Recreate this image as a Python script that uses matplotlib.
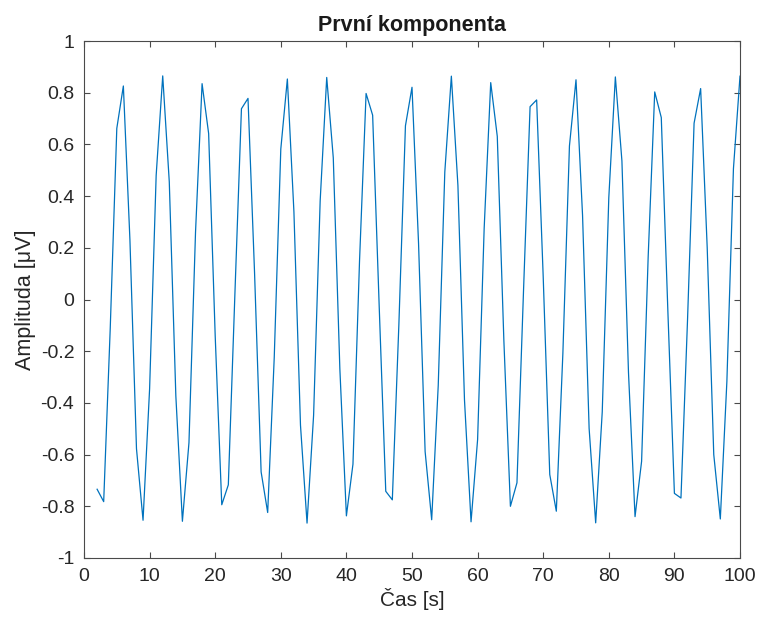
import matplotlib
matplotlib.use("Agg")
import matplotlib.pyplot as plt

# time samples [s]
cas = list(range(2, 101))

# amplitude [uV]
amplituda = [
    -0.734, -0.782, -0.111, 0.662, 0.826, 0.231, -0.577, -0.854, -0.346, 0.480,
    0.865, 0.455, -0.373, -0.858, -0.554, 0.260, 0.835, 0.642, -0.141, -0.794,
    -0.717, 0.019, 0.738, 0.778, 0.103, -0.667, -0.824, -0.224, 0.582, 0.853,
    0.339, -0.486, -0.865, -0.448, 0.381, 0.859, 0.548, -0.267, -0.837, -0.637,
    0.148, 0.797, 0.713, -0.027, -0.742, -0.775, -0.096, 0.672, 0.821, 0.216,
    -0.588, -0.852, -0.332, 0.493, 0.864, 0.441, -0.388, -0.860, -0.542, 0.275,
    0.839, 0.631, -0.156, -0.800, -0.709, 0.034, 0.746, 0.772, 0.088, -0.677,
    -0.819, -0.208, 0.594, 0.850, 0.325, -0.499, -0.864, -0.435, 0.394, 0.861,
    0.536, -0.282, -0.840, -0.626, 0.164, 0.803, 0.704, -0.042, -0.750, -0.768,
    -0.080, 0.682, 0.816, 0.201, -0.600, -0.849, -0.317, 0.506, 0.864,
]

xticks = list(range(0, 101, 10))
yticks = [-1, -0.8, -0.6, -0.4, -0.2, 0, 0.2, 0.4, 0.6, 0.8, 1]
ytick_labels = ["-1", "-0.8", "-0.6", "-0.4", "-0.2", "0", "0.2", "0.4", "0.6", "0.8", "1"]

plt.rcParams["font.family"] = ["Liberation Sans", "DejaVu Sans"]
axcol = "#4a4a4a"

fig = plt.figure(figsize=(7.58, 6.23), dpi=100)
ax = fig.add_axes([84 / 758, 1 - 558 / 623, 656 / 758, 517 / 623])

ax.plot(cas, amplituda, color="#0072BD", lw=0.9)

ax.set_xlim(0, 100)
ax.set_ylim(-1, 1)
ax.set_xticks(xticks)
ax.set_yticks(yticks)
ax.set_yticklabels(ytick_labels)
ax.tick_params(direction="in", length=4.5, width=0.8, color=axcol,
               labelcolor="#262626", labelsize=14, pad=7,
               top=True, right=True)
for s in ax.spines.values():
    s.set_color(axcol)
    s.set_linewidth(0.8)

ax.set_title("První komponenta", fontsize=15.5, fontweight="bold", color="#1a1a1a", pad=7)
ax.set_xlabel("Čas [s]", fontsize=15, color="#262626", labelpad=2)
ax.set_ylabel("Amplituda [μV]", fontsize=15.5, color="#262626", labelpad=3)

fig.savefig("out.png", dpi=100)
